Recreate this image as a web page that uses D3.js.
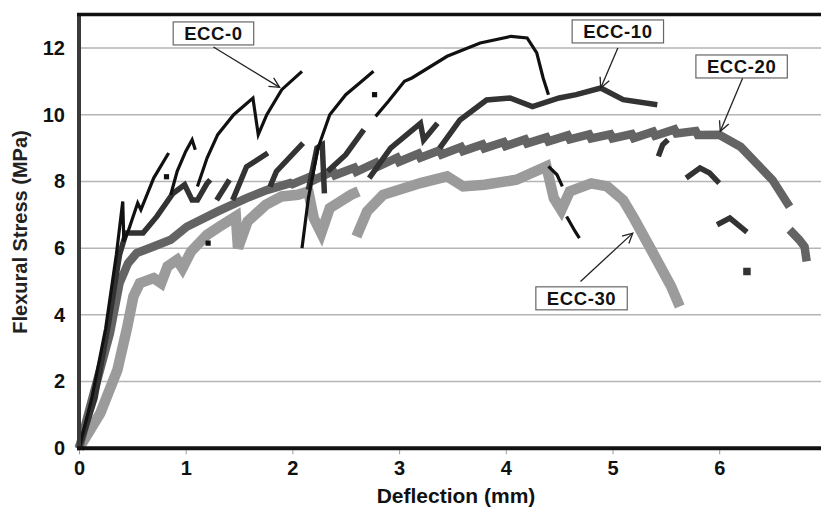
<!DOCTYPE html>
<html>
<head>
<meta charset="utf-8">
<script src="https://cdn.jsdelivr.net/npm/d3@7"></script>
<style>
  body { margin: 0; background: #fff; }
  svg { display: block; font-family: Arial, "Liberation Sans", sans-serif; }
  .tick text { font-size: 20px; font-weight: bold; fill: #111; }
</style>
</head>
<body>
<div id="chart"></div>
<script>
// Tick values
var xTicks = [0, 1, 2, 3, 4, 5, 6, 7];
var yTicks = [0, 2, 4, 6, 8, 10, 12];

// Each series is a list of broken segments: [deflection (mm), stress (MPa)]
var ecc0 = [
  [[0, 0], [0.12, 1.5], [0.25, 3.6], [0.35, 5.8], [0.41, 7.4], [0.42, 6.2], [0.46, 6.5], [0.55, 7.35], [0.58, 7.15], [0.7, 8.1], [0.84, 8.85]],
  [[0.86, 7.6], [0.92, 8.3], [1.0, 8.9], [1.06, 9.25], [1.09, 8.95]],
  [[1.11, 7.85], [1.2, 8.7], [1.3, 9.4], [1.45, 10.0], [1.63, 10.5], [1.68, 9.4], [1.76, 10.0], [1.9, 10.75], [2.09, 11.3]],
  [[2.09, 6.0], [2.15, 7.5], [2.24, 9.0], [2.35, 10.0], [2.5, 10.6], [2.65, 11.0], [2.76, 11.3]],
  [[2.78, 9.95], [2.9, 10.4], [3.05, 11.0], [3.12, 11.1], [3.45, 11.75], [3.76, 12.15], [4.05, 12.35], [4.2, 12.3], [4.29, 11.85], [4.35, 11.1], [4.4, 10.6]],
  [[4.4, 8.45], [4.48, 8.2], [4.53, 7.85]],
  [[4.57, 6.95], [4.65, 6.5], [4.69, 6.3]]
];
var ecc0Dots = [[0.82, 8.14], [2.77, 10.6], [1.21, 6.15]];

var ecc10 = [
  [[0, 0], [0.15, 1.5], [0.28, 3.8], [0.38, 5.8], [0.44, 6.45], [0.6, 6.45], [0.73, 6.95], [0.88, 7.64], [0.99, 7.9], [1.06, 7.44], [1.11, 7.44], [1.2, 7.94], [1.23, 8.05]],
  [[1.29, 7.44], [1.41, 8.05]],
  [[1.44, 7.44], [1.57, 8.44], [1.77, 8.85]],
  [[1.79, 7.84], [1.85, 8.3], [2.1, 9.15]],
  [[2.15, 7.75], [2.23, 9.0], [2.28, 9.1], [2.3, 7.64]],
  [[2.33, 8.3], [2.5, 8.8], [2.67, 9.55]],
  [[2.72, 8.1], [2.92, 9.0], [3.2, 9.74], [3.23, 9.24], [3.36, 9.74]],
  [[3.38, 9.0], [3.57, 9.84], [3.82, 10.44], [4.04, 10.5], [4.25, 10.24], [4.5, 10.5], [4.66, 10.6], [4.89, 10.8], [5.1, 10.45], [5.42, 10.3]],
  [[5.43, 8.75], [5.47, 9.1], [5.52, 9.25]],
  [[5.69, 8.1], [5.82, 8.4], [5.91, 8.25], [6.0, 7.95]],
  [[5.98, 6.7], [6.1, 6.9], [6.26, 6.48]]
];
var ecc10Dots = [[6.26, 5.3]];

var ecc20 = [
  [[0, 0], [0.1, 1.2], [0.29, 3.45], [0.38, 4.95], [0.46, 5.55], [0.54, 5.85], [0.7, 6.05], [0.86, 6.25], [1.01, 6.64], [1.3, 7.1], [1.57, 7.5], [1.76, 7.74], [1.98, 7.95],
   [2.0, 7.92], [2.18, 8.16], [2.2, 8.04], [2.38, 8.31], [2.4, 8.19], [2.58, 8.41], [2.6, 8.29], [2.78, 8.56], [2.8, 8.44], [2.98, 8.71], [3.0, 8.59],
   [3.18, 8.83], [3.2, 8.71], [3.38, 8.93], [3.4, 8.81], [3.58, 9.03], [3.6, 8.91], [3.78, 9.11], [3.8, 8.99], [3.98, 9.18], [4.0, 9.06],
   [4.18, 9.26], [4.2, 9.14], [4.38, 9.32], [4.4, 9.2], [4.58, 9.38], [4.6, 9.26], [4.78, 9.41], [4.8, 9.29], [4.98, 9.41], [5.0, 9.29],
   [5.18, 9.42], [5.2, 9.3], [5.38, 9.49], [5.4, 9.37], [5.58, 9.56], [5.6, 9.44], [5.78, 9.51], [5.8, 9.39], [6.0, 9.4],
   [6.2, 9.04], [6.35, 8.54], [6.5, 8.04], [6.66, 7.24]],
  [[6.66, 6.55], [6.75, 6.25], [6.8, 6.04], [6.82, 5.6]]
];

var ecc30 = [
  [[0, 0], [0.2, 1.05], [0.36, 2.35], [0.45, 3.6], [0.51, 4.55], [0.57, 4.95], [0.7, 5.1], [0.77, 4.95], [0.83, 5.45], [0.92, 5.65], [0.97, 5.4], [1.05, 5.9], [1.2, 6.4], [1.32, 6.65], [1.47, 6.95], [1.49, 6.0], [1.58, 6.8], [1.75, 7.3], [1.9, 7.55], [2.05, 7.6], [2.15, 7.7], [2.2, 6.9], [2.27, 6.45], [2.35, 7.2], [2.55, 7.6], [2.62, 7.7]],
  [[2.6, 6.35], [2.7, 7.1], [2.85, 7.6], [3.2, 7.95], [3.45, 8.15], [3.6, 7.85], [3.8, 7.9], [4.1, 8.05], [4.38, 8.45], [4.45, 7.5], [4.52, 7.14], [4.6, 7.7], [4.8, 7.94], [4.95, 7.85], [5.1, 7.44], [5.2, 6.9], [5.38, 5.85], [5.55, 4.85], [5.63, 4.25]]
];

// Series styles, drawn bottom to top
var series = [
  { name: "ECC-30", segs: ecc30, dots: [], color: "#9b9b9b", width: 10.5 },
  { name: "ECC-20", segs: ecc20, dots: [], color: "#646464", width: 8.5 },
  { name: "ECC-10", segs: ecc10, dots: ecc10Dots, color: "#333333", width: 5.5 },
  { name: "ECC-0", segs: ecc0, dots: ecc0Dots, color: "#111111", width: 3.2 }
];

// Callout boxes: label, box anchor (data), arrow tip (data)
var labelNames = ["ECC-0", "ECC-10", "ECC-20", "ECC-30"];
var labelPos = [[1.26, 12.44], [5.05, 12.5], [6.21, 11.45], [4.71, 4.5]];
var arrowFrom = [[1.26, 12.03], [5.05, 12.0], [6.22, 11.1], [4.7, 5.0]];
var arrowTo = [[1.88, 10.82], [4.89, 10.8], [6.01, 9.5], [5.19, 6.45]];

var width = 821, height = 507;
var margin = { left: 79, top: 14.6, bottom: 58.7 };

var svg = d3.select("#chart")
  .append("svg")
  .attr("width", width)
  .attr("height", height);

var x = d3.scaleLinear().domain([0, 7]).range([margin.left, margin.left + 7 * 106.7]);
var y = d3.scaleLinear().domain([0, 13]).range([height - margin.bottom, margin.top]);

// gridlines
svg.append("g")
  .selectAll("line")
  .data(yTicks.filter(function(d) { return d > 0; }))
  .enter().append("line")
  .attr("x1", x(0)).attr("x2", width)
  .attr("y1", function(d) { return y(d); })
  .attr("y2", function(d) { return y(d); })
  .style("stroke", "#b5b5b5")
  .style("stroke-width", 1.5);

// X axis
var xAxis = svg.append("g")
  .attr("transform", "translate(0," + y(0) + ")")
  .call(d3.axisBottom(x).tickValues(xTicks).tickSize(6).tickFormat(d3.format("d")));
xAxis.select(".domain").remove();
xAxis.selectAll(".tick line").style("stroke", "#999").attr("y1", 2);
xAxis.selectAll(".tick text").attr("dy", null).attr("y", 27);

// Y axis
var yAxis = svg.append("g")
  .attr("transform", "translate(" + x(0) + ",0)")
  .call(d3.axisLeft(y).tickValues(yTicks).tickSize(0).tickPadding(14));
yAxis.select(".domain").remove();

// data lines
var line = d3.line()
  .x(function(d) { return x(d[0]); })
  .y(function(d) { return y(d[1]); });

series.forEach(function(s) {
  var g = svg.append("g").attr("class", "series");
  g.selectAll("path")
    .data(s.segs)
    .enter().append("path")
    .attr("d", line)
    .style("fill", "none")
    .style("stroke", s.color)
    .style("stroke-width", s.width)
    .style("stroke-linejoin", "miter")
    .style("stroke-linecap", "butt");
  g.selectAll("rect")
    .data(s.dots)
    .enter().append("rect")
    .attr("x", function(d) { return x(d[0]) - s.width / 2 - 1; })
    .attr("y", function(d) { return y(d[1]) - s.width / 2 - 1; })
    .attr("width", s.width + 2)
    .attr("height", s.width + 2)
    .style("fill", s.color);
});

// frame: left, bottom, top
svg.append("line")
  .attr("x1", x(0)).attr("x2", x(0))
  .attr("y1", y(13)).attr("y2", y(0) + 2)
  .style("stroke", "#3a3a3a").style("stroke-width", 4);
svg.append("line")
  .attr("x1", x(0) - 2).attr("x2", width)
  .attr("y1", y(0)).attr("y2", y(0))
  .style("stroke", "#111").style("stroke-width", 4);
svg.append("line")
  .attr("x1", x(0) - 2).attr("x2", width)
  .attr("y1", y(13)).attr("y2", y(13))
  .style("stroke", "#111").style("stroke-width", 3.5);

// callouts
svg.append("defs").append("marker")
  .attr("id", "arrow")
  .attr("viewBox", "0 0 12 12")
  .attr("refX", 11).attr("refY", 6)
  .attr("markerWidth", 12).attr("markerHeight", 12)
  .attr("markerUnits", "userSpaceOnUse")
  .attr("orient", "auto")
  .append("path")
  .attr("d", "M1,1 L11,6 L1,11")
  .style("fill", "none")
  .style("stroke", "#222")
  .style("stroke-width", 1.3);

labelNames.forEach(function(name, i) {
  svg.append("line")
    .attr("x1", x(arrowFrom[i][0])).attr("y1", y(arrowFrom[i][1]))
    .attr("x2", x(arrowTo[i][0])).attr("y2", y(arrowTo[i][1]))
    .style("stroke", "#222").style("stroke-width", 1.3)
    .attr("marker-end", "url(#arrow)");

  var t = svg.append("text")
    .attr("x", x(labelPos[i][0]))
    .attr("y", y(labelPos[i][1]))
    .attr("text-anchor", "middle")
    .attr("dy", "0.36em")
    .style("font-size", "18.5px")
    .style("font-weight", "bold")
    .style("letter-spacing", "0.6px")
    .style("fill", "#111")
    .text(name);
  var b = t.node().getBBox();
  svg.insert("rect", function() { return t.node(); })
    .attr("x", b.x - 11).attr("y", b.y - 1)
    .attr("width", b.width + 22).attr("height", b.height + 2)
    .style("fill", "#fff")
    .style("stroke", "#666")
    .style("stroke-width", 1.2);
});

// axis titles
svg.append("text")
  .attr("x", 456).attr("y", 503)
  .attr("text-anchor", "middle")
  .style("font-size", "21px")
  .style("font-weight", "bold")
  .style("fill", "#111")
  .text("Deflection (mm)");

svg.append("text")
  .attr("transform", "translate(27," + 232 + ") rotate(-90)")
  .attr("text-anchor", "middle")
  .style("font-size", "20px")
  .style("font-weight", "bold")
  .style("fill", "#222")
  .text("Flexural Stress (MPa)");
</script>
</body>
</html>
